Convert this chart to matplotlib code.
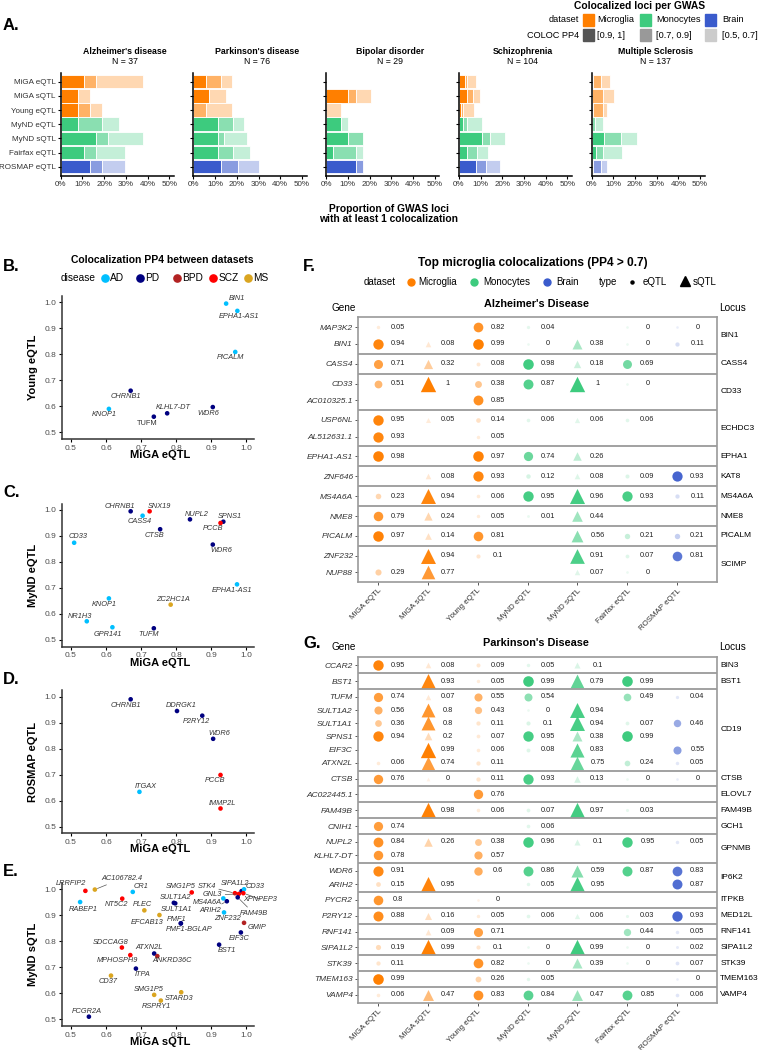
import matplotlib
matplotlib.use('Agg')
import matplotlib.pyplot as plt
import matplotlib.transforms as mtransforms
from matplotlib.colors import to_rgba
import numpy as np

plt.rcParams['font.family'] = ['Liberation Sans', 'DejaVu Sans']

# ---------------- data ----------------
qtl_labels = ['MiGA eQTL', 'MiGA sQTL', 'Young eQTL', 'MyND eQTL', 'MyND sQTL', 'Fairfax eQTL', 'ROSMAP eQTL']
qtl_tissue = ['Microglia', 'Microglia', 'Microglia', 'Monocytes', 'Monocytes', 'Monocytes', 'Brain']
tissue_colors = {'Microglia': '#FF7F00', 'Monocytes': '#3DCB7E', 'Brain': '#3A5BCC'}

# panel A: % of GWAS loci per COLOC PP4 bin (rows follow qtl_labels)
gwas_titles = ["Alzheimer's disease", "Parkinson's disease", 'Bipolar disorder', 'Schizophrenia', 'Multiple Sclerosis']
gwas_n = [37, 76, 29, 104, 137]
pct_pp4_09_1 = [[10.8, 8.1, 8.1, 8.1, 16.2, 10.8, 13.5],
                [5.8, 7.0, 0, 11.2, 11.2, 11.2, 12.5],
                [0, 10.3, 0, 6.9, 10.3, 3.4, 13.8],
                [2.9, 3.8, 1.0, 1.9, 10.6, 3.8, 7.7],
                [0.7, 0, 0.7, 0, 5.8, 2.2, 0.7]]
pct_pp4_07_09 = [[5.4, 0, 5.4, 10.8, 5.4, 5.4, 5.4],
                 [6.8, 0, 5.8, 6.9, 2.7, 6.9, 8.1],
                 [0, 3.4, 0, 0, 6.9, 10.3, 3.4],
                 [1.0, 2.9, 1.0, 1.9, 3.8, 4.8, 4.8],
                 [3.6, 5.1, 4.4, 1.5, 8.0, 2.9, 3.6]]
pct_pp4_05_07 = [[21.6, 5.4, 5.4, 8.1, 16.2, 13.5, 10.8],
                 [5.4, 8.1, 12.2, 5.3, 10.9, 8.0, 9.7],
                 [0, 6.9, 6.9, 3.4, 0, 3.4, 0],
                 [3.8, 2.9, 4.8, 6.7, 6.7, 4.8, 6.7],
                 [4.4, 5.1, 2.2, 3.6, 7.3, 8.8, 2.9]]

disease_names = ['AD', 'PD', 'BPD', 'SCZ', 'MS']
disease_colors = {'AD': '#00BFFF', 'PD': '#000080', 'BPD': '#B22222', 'SCZ': '#FF0000', 'MS': '#DAA520'}

# panel B: MiGA eQTL vs Young eQTL
b_genes = ['BIN1', 'EPHA1-AS1', 'PICALM', 'CHRNB1', 'KNOP1', 'TUFM', 'KLHL7-DT', 'WDR6']
b_x = [0.942, 0.974, 0.968, 0.670, 0.608, 0.736, 0.774, 0.904]
b_y = [0.995, 0.967, 0.809, 0.660, 0.590, 0.560, 0.573, 0.597]
b_dis = ['AD', 'AD', 'AD', 'PD', 'AD', 'PD', 'PD', 'PD']

# panel C: MiGA eQTL vs MyND eQTL
c_genes = ['CHRNB1', 'SNX19', 'CASS4', 'CTSB', 'NUPL2', 'SPNS1', 'PCCB', 'WDR6', 'CD33',
           'EPHA1-AS1', 'ZC2HC1A', 'KNOP1', 'NR1H3', 'GPR141', 'TUFM']
c_x = [0.670, 0.724, 0.704, 0.754, 0.839, 0.934, 0.926, 0.904, 0.509, 0.973, 0.784, 0.608, 0.545, 0.618, 0.736]
c_y = [0.995, 0.995, 0.978, 0.926, 0.964, 0.955, 0.950, 0.867, 0.874, 0.714, 0.636, 0.660, 0.572, 0.549, 0.545]
c_dis = ['PD', 'SCZ', 'AD', 'PD', 'PD', 'PD', 'SCZ', 'PD', 'AD', 'AD', 'MS', 'AD', 'AD', 'AD', 'PD']

# panel D: MiGA eQTL vs ROSMAP eQTL
d_genes = ['CHRNB1', 'DDRGK1', 'P2RY12', 'WDR6', 'PCCB', 'IMMP2L', 'ITGAX']
d_x = [0.670, 0.802, 0.874, 0.905, 0.926, 0.926, 0.695]
d_y = [0.990, 0.945, 0.927, 0.838, 0.699, 0.570, 0.634]
d_dis = ['PD', 'PD', 'PD', 'PD', 'SCZ', 'SCZ', 'AD']

# panel E: MiGA sQTL vs MyND sQTL
e_genes = ['LRRFIP2', 'AC106782.4', 'RABEP1', 'CR1', 'NT5C2', 'PLEC', 'SMG1P5', 'SULT1A2', 'SULT1A1',
           'EFCAB13', 'PMF1', 'PMF1-BGLAP', 'STK4', 'SIPA1L2', 'CD33', 'GNL3', 'XPNPEP3', 'MS4A6A',
           'ARIH2', 'FAM49B', 'ZNF232', 'GMIP', 'EIF3C', 'BST1', 'ATXN2L', 'ANKRD36C', 'ITPA',
           'SDCCAG8', 'MPHOSPH9', 'CD37', 'SMG1P5', 'STARD3', 'RSPRY1', 'FCGR2A']
e_x = [0.541, 0.568, 0.526, 0.676, 0.646, 0.709, 0.844, 0.793, 0.797, 0.752, 0.813, 0.813, 0.967,
       0.986, 0.993, 0.978, 0.991, 0.934, 0.944, 0.975, 0.936, 0.993, 0.984, 0.922, 0.737, 0.746,
       0.685, 0.645, 0.669, 0.614, 0.737, 0.814, 0.756, 0.551]
e_y = [0.994, 0.999, 0.951, 0.990, 0.964, 0.919, 0.988, 0.948, 0.946, 0.901, 0.869, 0.869, 0.985,
       0.993, 1.000, 0.982, 0.985, 0.965, 0.954, 0.969, 0.911, 0.871, 0.834, 0.787, 0.753, 0.743,
       0.695, 0.776, 0.747, 0.668, 0.594, 0.604, 0.572, 0.510]
e_dis = ['SCZ', 'MS', 'AD', 'AD', 'SCZ', 'MS', 'SCZ', 'PD', 'PD', 'MS', 'PD', 'PD', 'SCZ', 'PD', 'AD',
         'SCZ', 'SCZ', 'AD', 'PD', 'PD', 'AD', 'BPD', 'PD', 'PD', 'PD', 'BPD', 'PD', 'SCZ', 'SCZ',
         'MS', 'MS', 'MS', 'MS', 'PD']

# panel F / G: PP4 per gene (columns follow qtl_labels, None = not tested)
N = None
f_genes = ['MAP3K2', 'BIN1', 'CASS4', 'CD33', 'AC010325.1', 'USP6NL', 'AL512631.1', 'EPHA1-AS1',
           'ZNF646', 'MS4A6A', 'NME8', 'PICALM', 'ZNF232', 'NUP88']
f_locus = ['BIN1', 'BIN1', 'CASS4', 'CD33', 'CD33', 'ECHDC3', 'ECHDC3', 'EPHA1', 'KAT8', 'MS4A6A',
           'NME8', 'PICALM', 'SCIMP', 'SCIMP']
f_pp4 = [[0.05, N, 0.82, 0.04, N, 0, 0],
         [0.94, 0.08, 0.99, 0, 0.38, 0, 0.11],
         [0.71, 0.32, 0.08, 0.98, 0.18, 0.69, N],
         [0.51, 1, 0.38, 0.87, 1, 0, N],
         [N, N, 0.85, N, N, N, N],
         [0.95, 0.05, 0.14, 0.06, 0.06, 0.06, N],
         [0.93, N, 0.05, N, N, N, N],
         [0.98, N, 0.97, 0.74, 0.26, N, N],
         [N, 0.08, 0.93, 0.12, 0.08, 0.09, 0.93],
         [0.23, 0.94, 0.06, 0.95, 0.96, 0.93, 0.11],
         [0.79, 0.24, 0.05, 0.01, 0.44, N, N],
         [0.97, 0.14, 0.81, N, 0.56, 0.21, 0.21],
         [N, 0.94, 0.1, N, 0.91, 0.07, 0.81],
         [0.29, 0.77, N, N, 0.07, 0, N]]

g_genes = ['CCAR2', 'BST1', 'TUFM', 'SULT1A2', 'SULT1A1', 'SPNS1', 'EIF3C', 'ATXN2L', 'CTSB',
           'AC022445.1', 'FAM49B', 'CNIH1', 'NUPL2', 'KLHL7-DT', 'WDR6', 'ARIH2', 'PYCR2', 'P2RY12',
           'RNF141', 'SIPA1L2', 'STK39', 'TMEM163', 'VAMP4']
g_locus = ['BIN3', 'BST1', 'CD19', 'CD19', 'CD19', 'CD19', 'CD19', 'CD19', 'CTSB', 'ELOVL7', 'FAM49B',
           'GCH1', 'GPNMB', 'GPNMB', 'IP6K2', 'IP6K2', 'ITPKB', 'MED12L', 'RNF141', 'SIPA1L2', 'STK39',
           'TMEM163', 'VAMP4']
g_pp4 = [[0.95, 0.08, 0.09, 0.05, 0.1, N, N],
         [N, 0.93, 0.05, 0.99, 0.79, 0.99, N],
         [0.74, 0.07, 0.55, 0.54, N, 0.49, 0.04],
         [0.56, 0.8, 0.43, 0, 0.94, N, N],
         [0.36, 0.8, 0.11, 0.1, 0.94, 0.07, 0.46],
         [0.94, 0.2, 0.07, 0.95, 0.38, 0.99, N],
         [N, 0.99, 0.06, 0.08, 0.83, N, 0.55],
         [0.06, 0.74, 0.11, N, 0.75, 0.24, 0.05],
         [0.76, 0, 0.11, 0.93, 0.13, 0, 0],
         [N, N, 0.76, N, N, N, N],
         [N, 0.98, 0.06, 0.07, 0.97, 0.03, N],
         [0.74, N, N, 0.06, N, N, N],
         [0.84, 0.26, 0.38, 0.96, 0.1, 0.95, 0.05],
         [0.78, N, 0.57, N, N, N, N],
         [0.91, N, 0.6, 0.86, 0.59, 0.87, 0.83],
         [0.15, 0.95, N, 0.05, 0.95, N, 0.87],
         [0.8, N, 0, N, N, N, N],
         [0.88, 0.16, 0.05, 0.06, 0.06, 0.03, 0.93],
         [N, 0.09, 0.71, N, N, 0.44, 0.05],
         [0.19, 0.99, 0.1, 0, 0.99, 0, 0.02],
         [0.11, N, 0.82, 0, 0.39, 0, 0.07],
         [0.99, N, 0.26, 0.05, N, N, 0],
         [0.06, 0.47, 0.83, 0.84, 0.47, 0.85, 0.06]]

# label offsets of the scatter panels (pixels, dx right / dy up) and which get a leader line
b_off = [(11, 5), (2, -6), (-5, -6), (-5, -6), (-5, -6), (-7, -7), (6, 6), (-4, -6)]
c_off = [(-11, 5), (10, 5), (-3, -6), (-6, -6), (7, 5), (7, 5), (-7, -6), (9, -6), (4, 6),
         (-5, -6), (2, 5), (-5, -6), (-7, 5), (-5, -7), (-5, -6)]
d_off = [(-5, -6), (4, 5), (-6, -6), (6, 5), (-5, -6), (2, 5), (6, 5)]
e_off = [(-14, 7), (27, 11), (3, -7), (8, 5), (-6, -6), (-2, 6), (-11, 6), (2, 5), (1, -6),
         (-12, -7), (-4, 4), (8, -6), (-28, 7), (-7, 8), (11, 3), (-26, -1), (17, -6), (-16, -4),
         (-17, -9), (16, -16), (3, -6), (13, -5), (-2, -6), (8, -6), (-5, 6), (15, -4), (7, -6),
         (-11, 5), (-13, -5), (-3, -6), (-5, 5), (-2, -6), (-4, -6), (-2, 5)]
e_lines = {'AC106782.4', 'STK4', 'GNL3', 'XPNPEP3', 'ARIH2', 'FAM49B'}

# ---------------- figure ----------------
W, H = 761, 1050
fig = plt.figure(figsize=(W / 100, H / 100), dpi=100)
box_grey = '#9a9a9a'
txt_grey = '#333333'


def px_axes(x0, y0, x1, y1):
    # axes from pixel box (origin top-left)
    return fig.add_axes([x0 / W, 1 - y1 / H, (x1 - x0) / W, (y1 - y0) / H])


def ftext(x, y, s, **kw):
    kw.setdefault('ha', 'center')
    kw.setdefault('va', 'center')
    return fig.text(x / W, 1 - y / H, s, **kw)


def swatch(x, y, w, h, color):
    fig.patches.append(plt.Rectangle((x / W, 1 - (y + h) / H), w / W, h / H, color=color,
                                     transform=fig.transFigure, figure=fig))


# ---- panel A ----
ftext(3, 25, 'A.', ha='left', fontsize=12, fontweight='bold')
ftext(640, 6, 'Colocalized loci per GWAS', fontsize=7.4, fontweight='bold')
ftext(579, 20, 'dataset', ha='right', fontsize=6.6)
ftext(579, 35, 'COLOC PP4', ha='right', fontsize=6.6)
for xs, xt, name in zip([583, 640, 705], [597, 656, 722], ['Microglia', 'Monocytes', 'Brain']):
    swatch(xs, 14.5, 11, 11, tissue_colors[name])
    ftext(xt, 20, name, ha='left', fontsize=6.6)
for xs, xt, name, c in zip([583, 640, 705], [597, 656, 722], ['[0.9, 1]', '[0.7, 0.9]', '[0.5, 0.7]'],
                           ['#555555', '#999999', '#cccccc']):
    swatch(xs, 29.5, 11, 11, c)
    ftext(xt, 35, name, ha='left', fontsize=6.6)

bin_alpha = [1.0, 0.6, 0.3]
rows = np.arange(len(qtl_labels))
for i, title in enumerate(gwas_titles):
    x0 = 60.7 + 132.7 * i
    ax = px_axes(x0, 72.7, x0 + 113.3, 175.7)
    left = np.zeros(len(rows))
    for vals, a in zip([pct_pp4_09_1[i], pct_pp4_07_09[i], pct_pp4_05_07[i]], bin_alpha):
        v = np.array(vals) / 100
        m = v > 0
        cols = [to_rgba(tissue_colors[t], a) for t in np.array(qtl_tissue)[m]]
        ax.barh(rows[m], v[m], left=left[m], height=0.95, color=cols, edgecolor='white', linewidth=0.6)
        left += v
    ax.set_xlim(0, 0.522)
    ax.set_ylim(6.635, -0.635)
    ax.set_xticks([0, 0.1, 0.2, 0.3, 0.4, 0.5])
    ax.set_xticklabels(['0%', '10%', '20%', '30%', '40%', '50%'])
    ax.set_yticks(rows)
    ax.set_yticklabels(qtl_labels if i == 0 else [])
    ax.tick_params(length=2, width=0.8, labelsize=5.8, labelcolor=txt_grey, pad=1.5)
    for sp in ['top', 'right']:
        ax.spines[sp].set_visible(False)
    for sp in ['left', 'bottom']:
        ax.spines[sp].set_linewidth(1.1)
    ftext(x0 + 64, 52, title, fontsize=6.3, fontweight='bold')
    ftext(x0 + 64, 62, f'N = {gwas_n[i]}', fontsize=6.3)
ftext(389, 214, 'Proportion of GWAS loci\nwith at least 1 colocalization', fontsize=7.4,
      fontweight='bold', linespacing=1.1)

# ---- panels B-E ----
ftext(3, 266.7, 'B.', ha='left', fontsize=12, fontweight='bold')
ftext(162, 260, 'Colocalization PP4 between datasets', fontsize=7.5, fontweight='bold')
ftext(78.5, 278.3, 'disease', fontsize=7.3)
for xd, d in zip([105, 140, 177.3, 213.3, 248.3], disease_names):
    fig.add_artist(plt.Line2D([xd / W], [1 - 278.3 / H], marker='o', ms=5.2, color=disease_colors[d],
                              transform=fig.transFigure, ls='none'))
    ftext(xd + 5, 278.3, d, ha='left', fontsize=7.3)


def scatter_panel(top, letter, genes, xs, ys, dis, offs, xlabel, ylabel, lines=()):
    ax = px_axes(62, top, 254, top + 143)
    ax.set_xlim(0.4744, 1.0214)
    ax.set_ylim(0.4742, 1.0242)
    ax.scatter(xs, ys, s=11, c=[disease_colors[d] for d in dis], linewidths=0, zorder=3)
    for g, x, y, (dx, dy) in zip(genes, xs, ys, offs):
        style = 'normal' if (g == 'TUFM' and letter == 'B.') else 'italic'
        arrow = dict(arrowstyle='-', color='#555555', lw=0.5, shrinkA=0, shrinkB=2) if g in lines else None
        ax.annotate(g, (x, y), xytext=(dx, dy), textcoords='offset pixels', ha='center', va='center',
                    fontsize=5.3, fontstyle=style, color=txt_grey, arrowprops=arrow)
    ax.set_xticks([0.5, 0.6, 0.7, 0.8, 0.9, 1.0])
    ax.set_yticks([0.5, 0.6, 0.7, 0.8, 0.9, 1.0])
    ax.tick_params(length=2.5, width=0.8, labelsize=6, labelcolor='#4d4d4d', pad=1.5)
    for sp in ['top', 'right']:
        ax.spines[sp].set_visible(False)
    for sp in ['left', 'bottom']:
        ax.spines[sp].set_linewidth(1.1)
        ax.spines[sp].set_color('#333333')
    ftext(160, top + 159, xlabel, fontsize=8, fontweight='bold')
    ftext(33, top + 71.5, ylabel, fontsize=8, fontweight='bold', rotation=90)
    if letter != 'B.':
        ftext(3, top - 11, letter, ha='left', fontsize=12, fontweight='bold')


scatter_panel(296, 'B.', b_genes, b_x, b_y, b_dis, b_off, 'MiGA eQTL', 'Young eQTL')
scatter_panel(503.7, 'C.', c_genes, c_x, c_y, c_dis, c_off, 'MiGA eQTL', 'MyND eQTL')
scatter_panel(690.4, 'D.', d_genes, d_x, d_y, d_dis, d_off, 'MiGA eQTL', 'ROSMAP eQTL')
scatter_panel(883, 'E.', e_genes, e_x, e_y, e_dis, e_off, 'MiGA sQTL', 'MyND sQTL', e_lines)

# ---- panels F-G ----
ftext(303, 266.7, 'F.', ha='left', fontsize=12, fontweight='bold')
ftext(533, 262.7, 'Top microglia colocalizations (PP4 > 0.7)', fontsize=8.6, fontweight='bold')
ly = 282.3
ftext(379.3, ly, 'dataset', fontsize=7)
for xd, xt, name in zip([410.7, 474.3, 547], [418, 483, 556.5], ['Microglia', 'Monocytes', 'Brain']):
    fig.add_artist(plt.Line2D([xd / W], [1 - ly / H], marker='o', ms=5, color=tissue_colors[name],
                              transform=fig.transFigure, ls='none'))
    ftext(xt, ly, name, ha='left', fontsize=7)
ftext(608.3, ly, 'type', fontsize=7)
fig.add_artist(plt.Line2D([632.3 / W], [1 - ly / H], marker='o', ms=2.2, color='black',
                          transform=fig.transFigure, ls='none'))
ftext(642.5, ly, 'eQTL', ha='left', fontsize=7)
fig.add_artist(plt.Line2D([685.3 / W], [1 - (ly - 1) / H], marker='^', ms=6.5, color='black',
                          transform=fig.transFigure, ls='none'))
ftext(693, ly, 'sQTL', ha='left', fontsize=7)


def coloc_panel(top, bottom, genes, loci, pp4, title, head_y):
    # consecutive genes of one locus form one facet
    groups = []
    for l in loci:
        if groups and groups[-1][0] == l:
            groups[-1][1] += 1
        else:
            groups.append([l, 1])
    total = sum(n + 0.2 for _, n in groups)
    ax = px_axes(357.7, top, 717.3, bottom)
    ax.set_xlim(0.6, 7.8)
    ax.set_ylim(total, 0)
    side = mtransforms.blended_transform_factory(ax.transAxes, ax.transData)
    ypos, start = [], 0.0
    for k, (locus, n) in enumerate(groups):
        ypos += [start + 0.6 + j for j in range(n)]
        ax.text(1.008, start + (n + 0.2) / 2, locus, transform=side, ha='left', va='center', fontsize=6)
        start += n + 0.2
        if k < len(groups) - 1:
            ax.axhline(start, color=box_grey, lw=1.3)
    for r, row in enumerate(pp4):
        for c, v in enumerate(row):
            if v is None:
                continue
            sq = 'sQTL' in qtl_labels[c]
            s = (3.5 + 55 * v) * (2.1 if sq else 1.0)
            ax.scatter(c + 1, ypos[r], s=s, marker='^' if sq else 'o', color=tissue_colors[qtl_tissue[c]],
                       alpha=0.1 + 0.9 * v, linewidths=0)
            ax.text(c + 1.4, ypos[r], f'{v:g}', ha='center', va='center', fontsize=5.3, color='#222222')
    ax.set_yticks(ypos)
    ax.set_yticklabels(genes, fontstyle='italic', fontsize=6)
    ax.set_xticks(range(1, 8))
    ax.set_xticklabels(qtl_labels, rotation=45, ha='right', va='top', rotation_mode='anchor', fontsize=5.7)
    shift = mtransforms.ScaledTranslation(6 / 100, 3 / 100, fig.dpi_scale_trans)
    for lab in ax.get_xticklabels():
        lab.set_transform(lab.get_transform() + shift)
    ax.tick_params(length=2, width=0.7, color='#555555', labelcolor=txt_grey, pad=1.5)
    for sp in ax.spines.values():
        sp.set_color(box_grey)
        sp.set_linewidth(1.2)
    ftext(343.5, head_y + 4, 'Gene', fontsize=7.2)
    ftext(536, head_y, title, fontsize=7.8, fontweight='bold')
    ftext(732, head_y + 4, 'Locus', fontsize=7.2)


coloc_panel(317.3, 582.3, f_genes, f_locus, f_pp4, "Alzheimer's Disease", 304)
ftext(303, 643.3, 'G.', ha='left', fontsize=12, fontweight='bold')
coloc_panel(657.3, 1002.7, g_genes, g_locus, g_pp4, "Parkinson's Disease", 643.3)

fig.savefig('out.png', dpi=100)
